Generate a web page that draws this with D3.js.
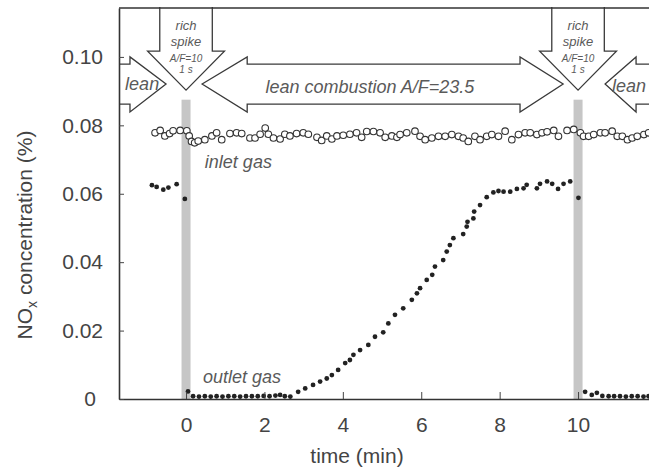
<!DOCTYPE html>
<html>
<head>
<meta charset="utf-8">
<script src="https://cdn.jsdelivr.net/npm/d3@7"></script>
<style>
  body { margin: 0; background: #fff; }
  svg { display: block; font-family: "Liberation Sans", Arial, Helvetica, sans-serif; }
</style>
</head>
<body>
<svg id="chart" width="649" height="470"></svg>
<script>
// Inlet gas NOx (open circles), time in min, concentration in %
const inletTime = [-0.79, -0.66, -0.54, -0.42, -0.33, -0.15, 0.02, 0.08, 0.14, 0.22, 0.31, 0.48, 0.66, 0.78, 0.91,
  1.12, 1.29, 1.42, 1.63, 1.76, 1.89, 2.02, 2.10, 2.23, 2.40, 2.52, 2.65, 2.82, 2.99, 3.12, 3.34, 3.46, 3.59, 3.72,
  3.85, 4.01, 4.18, 4.35, 4.48, 4.61, 4.78, 4.95, 5.08, 5.25, 5.38, 5.46, 5.63, 5.84, 5.97, 6.10, 6.27, 6.44, 6.61,
  6.78, 6.95, 7.07, 7.20, 7.37, 7.50, 7.67, 7.80, 7.97, 8.14, 8.31, 8.48, 8.65, 8.78, 8.95, 9.08, 9.21, 9.38, 9.50,
  9.72, 9.89, 10.06, 10.14, 10.27, 10.40, 10.57, 10.69, 10.87, 11.00, 11.13, 11.26, 11.38, 11.51, 11.68, 11.80];
const inletNOx = [0.0778, 0.0785, 0.0769, 0.0776, 0.0784, 0.0785, 0.0784, 0.0769, 0.0753, 0.0749, 0.0754, 0.0758, 0.0769, 0.0778, 0.0758,
  0.0776, 0.0778, 0.0776, 0.0763, 0.0763, 0.0774, 0.0792, 0.0774, 0.0763, 0.0760, 0.0774, 0.0769, 0.0776, 0.0778, 0.0774, 0.0765, 0.0756, 0.0769, 0.0760,
  0.0769, 0.0771, 0.0774, 0.0778, 0.0765, 0.0782, 0.0782, 0.0778, 0.0765, 0.0769, 0.0765, 0.0773, 0.0778, 0.0783, 0.0768, 0.0758, 0.0763, 0.0768, 0.0768,
  0.0773, 0.0768, 0.0763, 0.0753, 0.0768, 0.0758, 0.0768, 0.0773, 0.0768, 0.0783, 0.0758, 0.0773, 0.0778, 0.0778, 0.0773, 0.0778, 0.0781, 0.0785, 0.0768,
  0.0785, 0.0788, 0.0778, 0.0768, 0.0768, 0.0773, 0.0778, 0.0778, 0.0783, 0.0768, 0.0768, 0.0758, 0.0763, 0.0768, 0.0773, 0.0778];

// Outlet gas NOx (filled dots)
const outletTime = [-0.87, -0.75, -0.58, -0.45, -0.24, -0.03,
  0.05, 0.18, 0.33, 0.48, 0.63, 0.78, 0.93, 1.08, 1.23, 1.38, 1.53, 1.68, 1.83, 1.98, 2.13, 2.28, 2.40, 2.52, 2.66,
  2.86, 3.04, 3.24, 3.42, 3.59, 3.72, 3.88, 4.06, 4.18, 4.27, 4.44, 4.65, 4.82, 5.03, 5.16, 5.33, 5.54, 5.76, 5.89,
  5.97, 6.14, 6.28, 6.35, 6.56, 6.65, 6.73, 6.82, 7.07, 7.16, 7.18, 7.33, 7.35, 7.50, 7.67, 7.84, 7.97, 8.10, 8.27,
  8.44, 8.61, 8.69, 8.95, 9.03, 9.21, 9.34, 9.49, 9.63, 9.80, 10.01,
  10.18, 10.35, 10.48, 10.62, 10.78, 10.92, 11.07, 11.22, 11.37, 11.52, 11.67, 11.80];
const outletNOx = [0.0625, 0.0620, 0.0612, 0.0618, 0.0628, 0.0585,
  0.0022, 0.0008, 0.0007, 0.0008, 0.0007, 0.0008, 0.0007, 0.0008, 0.0008, 0.0007, 0.0008, 0.0008, 0.0008, 0.0009, 0.0008, 0.0010, 0.0012, 0.0008, 0.0007,
  0.0021, 0.0031, 0.0041, 0.0051, 0.0060, 0.0070, 0.0085, 0.0105, 0.0114, 0.0129, 0.0143, 0.0158, 0.0182, 0.0195, 0.0221, 0.0246, 0.0265, 0.0290, 0.0309,
  0.0324, 0.0348, 0.0363, 0.0387, 0.0406, 0.0431, 0.0450, 0.0470, 0.0482, 0.0504, 0.0518, 0.0528, 0.0548, 0.0567, 0.0590, 0.0604, 0.0608, 0.0606, 0.0606,
  0.0614, 0.0616, 0.0626, 0.0616, 0.0629, 0.0636, 0.0629, 0.0614, 0.0629, 0.0636, 0.0588,
  0.0021, 0.0012, 0.0018, 0.0009, 0.0008, 0.0008, 0.0008, 0.0007, 0.0008, 0.0008, 0.0007, 0.0008];

const xTicks = [0, 2, 4, 6, 8, 10];
const yTicks = [0, 0.02, 0.04, 0.06, 0.08, 0.10];
const spikeTimes = [0, 10];   // rich spike instants (min)

const svg = d3.select("#chart");
const plotLeft = 119, plotRight = 649, plotTop = 8, plotBottom = 399;

const x = d3.scaleLinear().domain([-1.71, 11.81]).range([plotLeft, plotRight]);
const y = d3.scaleLinear().domain([0, 0.1143]).range([plotBottom, plotTop]);

svg.append("defs").append("clipPath").attr("id", "plotClip")
  .append("rect").attr("x", plotLeft).attr("y", plotTop - 1)
  .attr("width", plotRight - plotLeft).attr("height", plotBottom - plotTop + 1);

const plot = svg.append("g").attr("clip-path", "url(#plotClip)");

// grey bands marking the rich spikes
plot.selectAll("rect.spike").data(spikeTimes).join("rect")
  .attr("class", "spike")
  .attr("x", d => x(d - 0.115))
  .attr("width", d => x(d + 0.115) - x(d - 0.115))
  .attr("y", y(0.0875))
  .attr("height", y(0) - y(0.0875))
  .attr("fill", "#c6c6c6");

// arrow annotations (in data units)
const yc = 0.0921, sTop = 0.0979, sBot = 0.0862, hTop = 0.1000, hBot = 0.0839;
const poly = pts => "M" + pts.map(p => x(p[0]) + "," + y(p[1])).join("L") + "Z";

const arrows = [];
// lean, pointing right into the first spike
arrows.push(poly([[-2, sTop], [-1.43, sTop], [-1.43, hTop], [-0.51, yc], [-1.43, hBot], [-1.43, sBot], [-2, sBot]]));
// lean combustion, double headed
arrows.push(poly([[0.41, yc], [1.56, hTop], [1.56, sTop], [8.52, sTop], [8.52, hTop], [9.62, yc],
  [8.52, hBot], [8.52, sBot], [1.56, sBot], [1.56, hBot]]));
// lean, pointing left into the second spike
arrows.push(poly([[10.69, yc], [11.48, hTop], [11.48, sTop], [12.2, sTop], [12.2, sBot], [11.48, sBot], [11.48, hBot]]));
// rich spike arrows pointing down
spikeTimes.forEach(t => {
  arrows.push(poly([[t - 0.67, 0.12], [t + 0.67, 0.12], [t + 0.67, 0.1017], [t + 0.98, 0.1017], [t, 0.0903],
    [t - 0.98, 0.1017], [t - 0.67, 0.1017]]));
});
plot.selectAll("path.arrow").data(arrows).join("path")
  .attr("class", "arrow")
  .attr("d", d => d)
  .attr("fill", "#fff")
  .attr("stroke", "#3a3a3a")
  .attr("stroke-width", 1.3)
  .attr("stroke-linejoin", "miter");

// inlet gas: open circles
plot.selectAll("circle.inlet").data(inletTime).join("circle")
  .attr("class", "inlet")
  .attr("cx", d => x(d))
  .attr("cy", (d, i) => y(inletNOx[i]))
  .attr("r", 3.3)
  .attr("fill", "#fff")
  .attr("stroke", "#333")
  .attr("stroke-width", 1.1);

// outlet gas: filled dots
plot.selectAll("circle.outlet").data(outletTime).join("circle")
  .attr("class", "outlet")
  .attr("cx", d => x(d))
  .attr("cy", (d, i) => y(outletNOx[i]))
  .attr("r", 2.4)
  .attr("fill", "#222");

// annotation text
const note = (t, v, txt, size, anchor) => plot.append("text")
  .attr("x", x(t)).attr("y", y(v))
  .attr("text-anchor", anchor || "middle")
  .attr("font-style", "italic")
  .attr("font-size", size)
  .attr("fill", "#5a5a5a")
  .text(txt);

note(-1.12, 0.0903, "lean", 18);
note(4.69, 0.0895, "lean combustion A/F=23.5", 18);
note(11.30, 0.0898, "lean", 18);
spikeTimes.forEach(t => {
  note(t, 0.1079, "rich", 13);
  note(t, 0.1033, "spike", 13);
  note(t, 0.0986, "A/F=10", 10);
  note(t, 0.0954, "1 s", 10);
});
note(0.48, 0.0675, "inlet gas", 18, "start");
note(0.43, 0.0047, "outlet gas", 18, "start");

// frame top
svg.append("line")
  .attr("x1", plotLeft).attr("x2", plotRight).attr("y1", plotTop).attr("y2", plotTop)
  .attr("stroke", "#333").attr("stroke-width", 1.5);

// axes
const xAxis = svg.append("g")
  .attr("transform", `translate(0,${plotBottom})`)
  .call(d3.axisBottom(x).tickValues(xTicks).tickSize(-7).tickPadding(18).tickSizeOuter(0).tickFormat(d3.format("d")));
const yAxis = svg.append("g")
  .attr("transform", `translate(${plotLeft},0)`)
  .call(d3.axisLeft(y).tickValues(yTicks).tickSize(-5).tickPadding(16).tickSizeOuter(0)
    .tickFormat(d => d === 0 ? "0" : d3.format(".2f")(d)));

[xAxis, yAxis].forEach(g => {
  g.select(".domain").attr("stroke", "#333").attr("stroke-width", 1.6);
  g.selectAll(".tick line").attr("stroke", "#444").attr("stroke-width", 1);
  g.selectAll(".tick text").attr("font-size", 21).attr("fill", "#444")
    .attr("font-family", "'Liberation Sans', Arial, sans-serif");
});
yAxis.selectAll(".tick text").filter(d => d === 0).attr("dx", -7);

// axis titles
svg.append("text")
  .attr("x", 357).attr("y", 463)
  .attr("text-anchor", "middle")
  .attr("font-size", 21).attr("fill", "#444")
  .text("time (min)");

const yt = svg.append("text")
  .attr("transform", "translate(32,235) rotate(-90)")
  .attr("text-anchor", "middle")
  .attr("font-size", 21).attr("fill", "#444");
yt.append("tspan").text("NO");
yt.append("tspan").attr("font-size", 14).attr("dy", 5).text("x");
yt.append("tspan").attr("dy", -5).text(" concentration (%)");
</script>
</body>
</html>
